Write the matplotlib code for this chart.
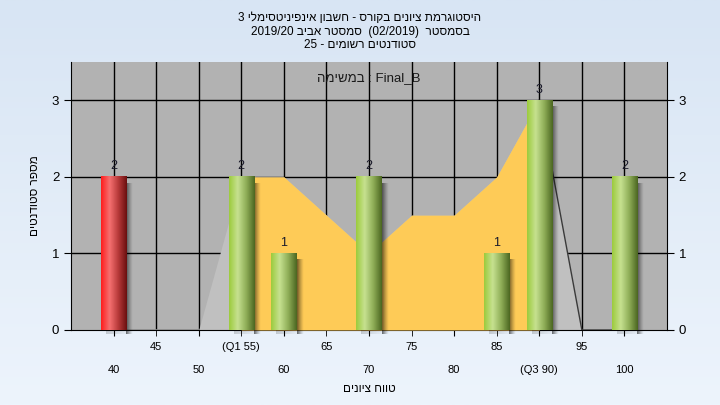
import numpy as np
import matplotlib
matplotlib.use("Agg")
import matplotlib.pyplot as plt
from matplotlib.colors import LinearSegmentedColormap

plt.rcParams['font.family'] = ['Liberation Sans', 'DejaVu Sans']

# --- data ---
grades = np.array([40, 45, 50, 55, 60, 65, 70, 75, 80, 85, 90, 95, 100])
counts = np.array([2, 0, 0, 2, 1, 0, 2, 0, 0, 1, 3, 0, 2])
curve = np.array([0, 0, 0, 2, 2, 1.5, 1, 1.5, 1.5, 2, 3, 0, 0])
q1, q3 = 55, 90
tick_labels = ['40', '45', '50', '(Q1 55)', '60', '65', '70', '75', '80', '85', '(Q3 90)', '95', '100']
title_lines = ['היסטוגרמת ציונים בקורס - חשבון אינפיניטסימלי 3',
               'בסמסטר  (02/2019)  סמסטר אביב 2019/20',
               'סטודנטים רשומים - 25']
legend_text = 'במשימה : Final_B'
x_title = 'טווח ציונים'
y_title = 'מספר סטודנטים'


def bidi(s):
    """Minimal bidi reordering (LTR paragraph) so Hebrew reads right to left."""
    def cls(ch):
        if '\u0590' <= ch <= '\u05ff':
            return 'R'
        if ch.isdigit():
            return 'EN'
        if ch in '/:.,':
            return 'CS'
        if ch in '+-':
            return 'ES'
        if ch.isalpha() or ch == '_':
            return 'L'
        return 'ON'
    t = [cls(c) for c in s]
    n = len(t)
    for i in range(1, n - 1):
        if t[i] in ('CS', 'ES') and t[i - 1] == 'EN' and t[i + 1] == 'EN':
            t[i] = 'EN'
    t = ['ON' if x in ('CS', 'ES') else x for x in t]
    last = 'L'
    for i in range(n):
        if t[i] in ('L', 'R'):
            last = t[i]
        elif t[i] == 'EN' and last == 'L':
            t[i] = 'L'
    i = 0
    while i < n:
        if t[i] == 'ON':
            j = i
            while j < n and t[j] == 'ON':
                j += 1
            before = 'L' if i == 0 else ('R' if t[i - 1] in ('R', 'EN') else 'L')
            after = 'L' if j == n else ('R' if t[j] in ('R', 'EN') else 'L')
            d = before if before == after else 'L'
            for k in range(i, j):
                t[k] = d
            i = j
        else:
            i += 1
    lv = [0 if x == 'L' else (1 if x == 'R' else 2) for x in t]
    chars = list(s)
    for level in range(max(lv + [0]), 0, -1):
        i = 0
        while i < n:
            if lv[i] >= level:
                j = i
                while j < n and lv[j] >= level:
                    j += 1
                chars[i:j] = chars[i:j][::-1]
                lv[i:j] = lv[i:j][::-1]
                i = j
            else:
                i += 1
    mirror = {'(': ')', ')': '('}
    out = []
    for c, l in zip(chars, lv):
        out.append(mirror.get(c, c) if l % 2 == 1 else c)
    return ''.join(out)


fig = plt.figure(figsize=(7.2, 4.05), dpi=100)

# light blue background gradient
bg = fig.add_axes([0, 0, 1, 1], zorder=-10)
grad = np.linspace(0, 1, 256).reshape(-1, 1)
bg_cmap = LinearSegmentedColormap.from_list('bg', ['#d8e5f4', '#edf4fc'])
bg.imshow(grad, aspect='auto', cmap=bg_cmap, extent=(0, 1, 0, 1), origin='upper')
bg.axis('off')

ax = fig.add_axes([71 / 720, 75 / 405, 596 / 720, 268 / 405])
ax.set_facecolor('#b2b2b2')

# grid
for g in grades:
    ax.axvline(g, color='black', lw=1, zorder=1)
for v in [1, 2, 3]:
    ax.axhline(v, color='black', lw=1, zorder=1)

# whole curve in light gray, interquartile part in yellow
ax.fill_between(grades, curve, color='#c0c0c0', lw=0, zorder=2)
mask = (grades >= q1) & (grades <= q3)
ax.fill_between(grades[mask], curve[mask], color='#fecb57', lw=0, zorder=3)
ax.plot(grades[grades >= q3], curve[grades >= q3], color='#3a3a3a', lw=1, zorder=3)
ax.plot(grades[grades <= 50], curve[grades <= 50], color='#8a8a8a', lw=1.2, zorder=3)

# cylinder-like bars with soft shadow
green = LinearSegmentedColormap.from_list('g', ['#9ccb3c', '#c6e190', '#8fae58', '#4b6620'])
red = LinearSegmentedColormap.from_list('r', ['#ff1c1c', '#f57070', '#b83a3a', '#6a0e0e'])
width = 3.0
hgrad = np.linspace(0, 1, 128).reshape(1, -1)
shadow = np.zeros((1, 64, 4))
shadow[..., 3] = np.linspace(0.65, 0.0, 64) ** 1.3
for g, c in zip(grades, counts):
    if c == 0:
        continue
    x0 = g - width / 2
    ax.imshow(shadow, aspect='auto', extent=(x0 + width, x0 + width + 0.75, -0.05, c - 0.08),
              zorder=4, clip_on=False)
    ax.imshow(shadow, aspect='auto', extent=(x0 + 0.6, x0 + width + 0.75, -0.05, 0.0),
              zorder=4, clip_on=False, alpha=0.3)
    cmap = red if g < q1 else green
    ax.imshow(hgrad, cmap=cmap, aspect='auto', extent=(x0, x0 + width, 0, c), zorder=5)
    ax.text(g, c + 0.06, str(c), ha='center', va='bottom', fontsize=9, color='#1a1a2a', zorder=6)

ax.text(0.5, 0.94, bidi(legend_text), transform=ax.transAxes, ha='center', va='center',
        fontsize=9.5, color='#1a1a1a', zorder=6)

ax.set_xlim(35, 105)
ax.set_ylim(0, 3.5)
# staggered tick labels: upper row on minor ticks, lower row on major ticks
ax.set_xticks(grades[::2])
ax.set_xticklabels(tick_labels[::2], fontsize=8)
ax.set_xticks(grades[1::2], minor=True)
ax.set_xticklabels(tick_labels[1::2], minor=True, fontsize=8)
ax.tick_params(axis='x', which='major', length=4, pad=21)
ax.tick_params(axis='x', which='minor', length=4, pad=5)
ax.set_yticks([0, 1, 2, 3])
ax.tick_params(axis='y', labelsize=9.5, length=5, left=True, right=True, labelright=True)
ax.spines['top'].set_visible(False)
for s in ['left', 'right', 'bottom']:
    ax.spines[s].set_color('black')

ax.set_xlabel(bidi(x_title), fontsize=8.5, labelpad=6)
ax.set_ylabel(bidi(y_title), fontsize=8.5, rotation=90, va='center')
ax.yaxis.set_label_coords(-0.06, 0.5)

for i, line in enumerate(title_lines):
    fig.text(0.5, 1 - (18 + 13.5 * i) / 405, bidi(line), ha='center', va='center', fontsize=8.5)

fig.savefig('out.png', dpi=100)
